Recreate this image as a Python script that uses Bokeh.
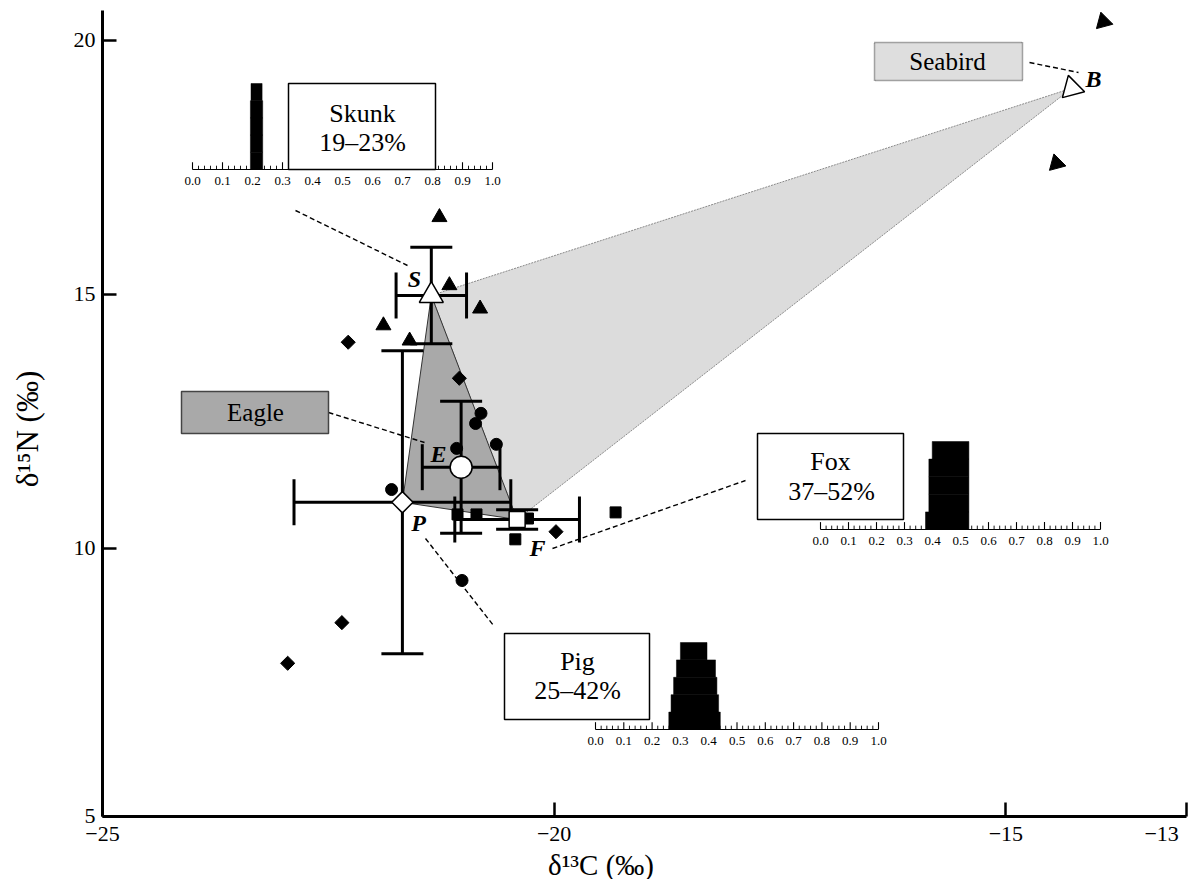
import numpy as np
from bokeh.plotting import figure
from bokeh.models import ColumnDataSource, Range1d, FixedTicker, Label, BoxAnnotation
from bokeh.core.properties import value
from bokeh.embed import file_html
from bokeh.resources import INLINE

# ---------------- data ----------------
source_names = ["Skunk", "Eagle", "Pig", "Fox", "Seabird"]
source_codes = ["S", "E", "P", "F", "B"]
source_d13c = [-21.36, -21.03, -21.68, -20.41, -14.27]
source_d15n = [14.98, 11.60, 10.91, 10.57, 19.06]
source_d13c_sd = [0.39, 0.43, 1.20, 0.69, 0.0]
source_d15n_sd = [0.95, 1.30, 2.98, 0.19, 0.0]

skunk_d13c = [-21.27, -21.16, -20.82, -21.89, -21.60]
skunk_d15n = [16.52, 15.18, 14.72, 14.39, 14.09]
eagle_d13c = [-20.81, -20.87, -21.08, -20.64, -21.80, -21.02]
eagle_d15n = [12.66, 12.46, 11.97, 12.05, 11.16, 9.37]
pig_d13c = [-22.28, -21.05, -19.98, -22.35, -22.95]
pig_d15n = [14.06, 13.35, 10.33, 8.54, 7.74]
fox_d13c = [-21.07, -20.86, -20.29, -20.43, -19.32]
fox_d15n = [10.67, 10.67, 10.59, 10.18, 10.71]
seabird_d13c = [-13.92, -14.44]
seabird_d15n = [20.37, 17.58]

x_ticks = [-25, -20, -15, -13]
x_tick_labels = ["\u221225", "\u221220", "\u221215", "\u221213"]
y_ticks = [5, 10, 15, 20]
y_tick_labels = ["5", "10", "15", "20"]

# mixing-model credible intervals (stacked levels, bottom to top)
mix_sources = ["Skunk", "Fox", "Pig"]
mix_ranges = ["19\u201323%", "37\u201352%", "25\u201342%"]
skunk_ci_lo = [0.193, 0.193, 0.193, 0.193, 0.195]
skunk_ci_hi = [0.234, 0.234, 0.234, 0.234, 0.232]
fox_ci_lo = [0.375, 0.387, 0.387, 0.387, 0.399]
fox_ci_hi = [0.530, 0.530, 0.530, 0.530, 0.530]
pig_ci_lo = [0.259, 0.267, 0.276, 0.286, 0.300]
pig_ci_hi = [0.441, 0.435, 0.429, 0.424, 0.394]

inset_ticks = [0.0, 0.1, 0.2, 0.3, 0.4, 0.5, 0.6, 0.7, 0.8, 0.9, 1.0]
inset_tick_labels = ["0.0", "0.1", "0.2", "0.3", "0.4", "0.5", "0.6", "0.7", "0.8", "0.9", "1.0"]
inset_minor = [round(0.02 * i, 2) for i in range(51) if i % 5 != 0]

# ---------------- layout helpers ----------------
X0, X1 = -25.0, -13.0
FRAME_W, FRAME_H = 1084, 806
PX_LEFT, PX_TOP = 102, 10          # frame position in the picture
YPX = 50.8
Y1 = 20.59
Y0 = Y1 - FRAME_H / YPX

def dx(px):
    return X0 + (px - PX_LEFT) * (X1 - X0) / FRAME_W

def dy(py):
    return Y1 - (py - PX_TOP) / YPX

SERIF = "Liberation Serif"
EM = "\u2003"

p = figure(frame_width=FRAME_W, frame_height=FRAME_H,
           x_range=Range1d(X0, X1), y_range=Range1d(Y0, Y1),
           output_backend="svg", toolbar_location=None,
           min_border_left=PX_LEFT, min_border_right=7, min_border_top=PX_TOP, min_border_bottom=63)
p.outline_line_color = None
p.xgrid.visible = False
p.ygrid.visible = False
p.background_fill_color = "white"

# axes
p.xaxis.ticker = FixedTicker(ticks=x_ticks)
xl = dict(zip(x_ticks, x_tick_labels))
xl[x_ticks[-1]] = x_tick_labels[-1] + "\u2002\u2006"      # keep the last label inside the picture
p.xaxis.major_label_overrides = xl
y_tick_pos = [Y0 + 0.002 if t < Y0 + 0.5 else t for t in y_ticks]
p.yaxis.ticker = FixedTicker(ticks=y_tick_pos)
p.yaxis.major_label_overrides = {t: l for t, l in zip(y_tick_pos, y_tick_labels)}
for ax in (p.xaxis[0], p.yaxis[0]):
    ax.axis_line_width = 3
    ax.axis_line_color = "black"
    ax.major_tick_in = 14
    ax.major_tick_out = 0
    ax.major_tick_line_width = 2.5
    ax.major_tick_line_color = "black"
    ax.minor_tick_line_color = None
    ax.major_label_text_font = SERIF
    ax.major_label_text_font_size = "22px"
    ax.major_label_text_color = "black"
    ax.axis_label_text_font = SERIF
    ax.axis_label_text_font_size = "29px"
    ax.axis_label_text_font_style = "normal"
    ax.axis_label_text_color = "black"
p.xaxis.major_label_standoff = 4
p.yaxis.major_label_standoff = 7
p.xaxis.axis_label = "\u03b4\u00b9\u00b3C (\u2030)" + EM * 3
p.xaxis.axis_label_standoff = 0
p.yaxis.axis_label = "\u03b4\u00b9\u2075N (\u2030)" + EM
p.yaxis.axis_label_text_font_size = "31px"
p.yaxis.axis_label_standoff = 26

# ---------------- mixing polygons ----------------
iS, iE, iP, iF, iB = 0, 1, 2, 3, 4
light_idx = [iS, iB, iF]
dark_idx = [iS, iP, iF]
p.patch([source_d13c[i] for i in light_idx], [source_d15n[i] for i in light_idx],
        fill_color="#dcdcdc", line_color="#8a8a8a", line_width=1, line_dash="2 1")
p.patch([source_d13c[i] for i in dark_idx], [source_d15n[i] for i in dark_idx],
        fill_color="#a9a9a9", line_color="#333333", line_width=1)

# ---------------- leader lines ----------------
leaders = [((295, 210), (407, 265)),    # Skunk
           ((1029, 62), (1078, 72)),    # Seabird
           ((328, 412), (424, 442)),    # Eagle
           ((552, 548), (745, 480)),    # Fox
           ((425, 538), (493, 625))]    # Pig
p.segment(x0=[dx(a[0]) for a, b in leaders], y0=[dy(a[1]) for a, b in leaders],
          x1=[dx(b[0]) for a, b in leaders], y1=[dy(b[1]) for a, b in leaders],
          line_color="black", line_width=1.4, line_dash="5 3")

# ---------------- error bars ----------------
c = np.array(source_d13c); n = np.array(source_d15n)
sc = np.array(source_d13c_sd); sn = np.array(source_d15n_sd)
has = sc > 0
eb = ColumnDataSource(dict(c=c[has], n=n[has], cl=(c - sc)[has], cu=(c + sc)[has],
                           nl=(n - sn)[has], nu=(n + sn)[has]))
p.segment(x0="cl", x1="cu", y0="n", y1="n", source=eb, line_color="black", line_width=3)
p.segment(x0="c", x1="c", y0="nl", y1="nu", source=eb, line_color="black", line_width=3)
p.scatter(x="cl", y="n", source=eb, marker="dash", angle=np.pi / 2, size=46, line_width=3, line_color="black")
p.scatter(x="cu", y="n", source=eb, marker="dash", angle=np.pi / 2, size=46, line_width=3, line_color="black")
p.scatter(x="c", y="nl", source=eb, marker="dash", size=42, line_width=3, line_color="black")
p.scatter(x="c", y="nu", source=eb, marker="dash", size=42, line_width=3, line_color="black")

# ---------------- individual samples ----------------
SEA_ANGLE = 3 * np.pi / 4
p.scatter(skunk_d13c, skunk_d15n, marker="triangle", size=15, color="black")
p.scatter(eagle_d13c, eagle_d15n, marker="circle", size=12, color="black")
p.scatter(pig_d13c, pig_d15n, marker="square", angle=np.pi / 4, size=10, color="black")
p.scatter(fox_d13c, fox_d15n, marker="square", size=11, color="black")
p.scatter(seabird_d13c, seabird_d15n, marker="triangle", angle=SEA_ANGLE, size=17, color="black")

# ---------------- source means (open symbols) ----------------
open_style = dict(fill_color="white", line_color="black", line_width=1.5)
p.scatter([source_d13c[iS]], [source_d15n[iS]], marker="triangle", size=24, **open_style)
p.scatter([source_d13c[iE]], [source_d15n[iE]], marker="circle", size=22, **open_style)
p.scatter([source_d13c[iP]], [source_d15n[iP]], marker="square", angle=np.pi / 4, size=15, **open_style)
p.scatter([source_d13c[iF]], [source_d15n[iF]], marker="square", size=16, **open_style)
p.scatter([source_d13c[iB]], [source_d15n[iB]], marker="triangle", angle=SEA_ANGLE, size=23, **open_style)

# source code letters
letter_pos = {"S": (414, 278), "E": (438, 453), "P": (418, 522), "F": (537, 547), "B": (1093, 78)}
for code in source_codes:
    px, py = letter_pos[code]
    p.add_layout(Label(x=dx(px), y=dy(py), text=code, text_align="center", text_baseline="middle",
                       text_font=SERIF, text_font_size="24px", text_font_style="bold italic",
                       text_color="black"))

# ---------------- insets (credible-interval histograms) ----------------
def inset(lo, hi, x0px, x1px, base_py, top_py):
    sub = p.subplot(x_source=Range1d(0, 1), y_source=Range1d(0, 5),
                    x_target=Range1d(dx(x0px), dx(x1px)),
                    y_target=Range1d(dy(base_py), dy(top_py)))
    k = len(lo)
    sub.quad(left=lo, right=hi, bottom=list(range(k)), top=list(range(1, k + 1)),
             fill_color="black", line_color="black", line_width=0.5)
    sub.segment(x0=[0], x1=[1], y0=[0], y1=[0], line_color="black", line_width=1.2)
    sub.segment(x0=inset_ticks, x1=inset_ticks, y0=[0] * len(inset_ticks), y1=[0.42] * len(inset_ticks),
                line_color="black", line_width=1.1)
    sub.segment(x0=inset_minor, x1=inset_minor, y0=[0] * len(inset_minor), y1=[0.22] * len(inset_minor),
                line_color="black", line_width=0.9)
    sub.text(x=inset_ticks, y=[-0.68] * len(inset_ticks), text=inset_tick_labels,
             text_align="center", text_baseline="middle", text_font=value(SERIF),
             text_font_size="13px", text_color="black")

inset(skunk_ci_lo, skunk_ci_hi, 192, 492, 169, 83)
inset(fox_ci_lo, fox_ci_hi, 820, 1100, 529, 441)
inset(pig_ci_lo, pig_ci_hi, 595, 878, 729, 642)

# ---------------- label boxes ----------------
def box(l, r, t, b, fill, line_color="black", line_dash="solid", lw=1.5):
    p.add_layout(BoxAnnotation(left=dx(l), right=dx(r), top=dy(t), bottom=dy(b),
                               fill_color=fill, fill_alpha=1.0, line_color=line_color,
                               line_alpha=1.0, line_width=lw, line_dash=line_dash))

def txt(px, py, s, size="26px"):
    p.add_layout(Label(x=dx(px), y=dy(py), text=s, text_align="center", text_baseline="middle",
                       text_font=SERIF, text_font_size=size, text_color="black"))

box(288, 435, 83, 169, "white")
txt(362, 113, mix_sources[0]); txt(362, 142, mix_ranges[0])
box(757, 903, 433, 519, "white")
txt(830, 461, mix_sources[1]); txt(831, 491, mix_ranges[1])
box(504, 649, 633, 719, "white")
txt(577, 661, mix_sources[2]); txt(577, 690, mix_ranges[2])
box(874, 1022, 42, 80, "#dedede", line_color="#555555", line_dash="1 1", lw=1.5)
txt(947, 61, source_names[4], "25px")
box(181, 328, 391, 433, "#a9a9a9", line_color="#444444", lw=1.5)
txt(255, 412, source_names[1], "25px")

open("out.html", "w").write(file_html(p, INLINE))
